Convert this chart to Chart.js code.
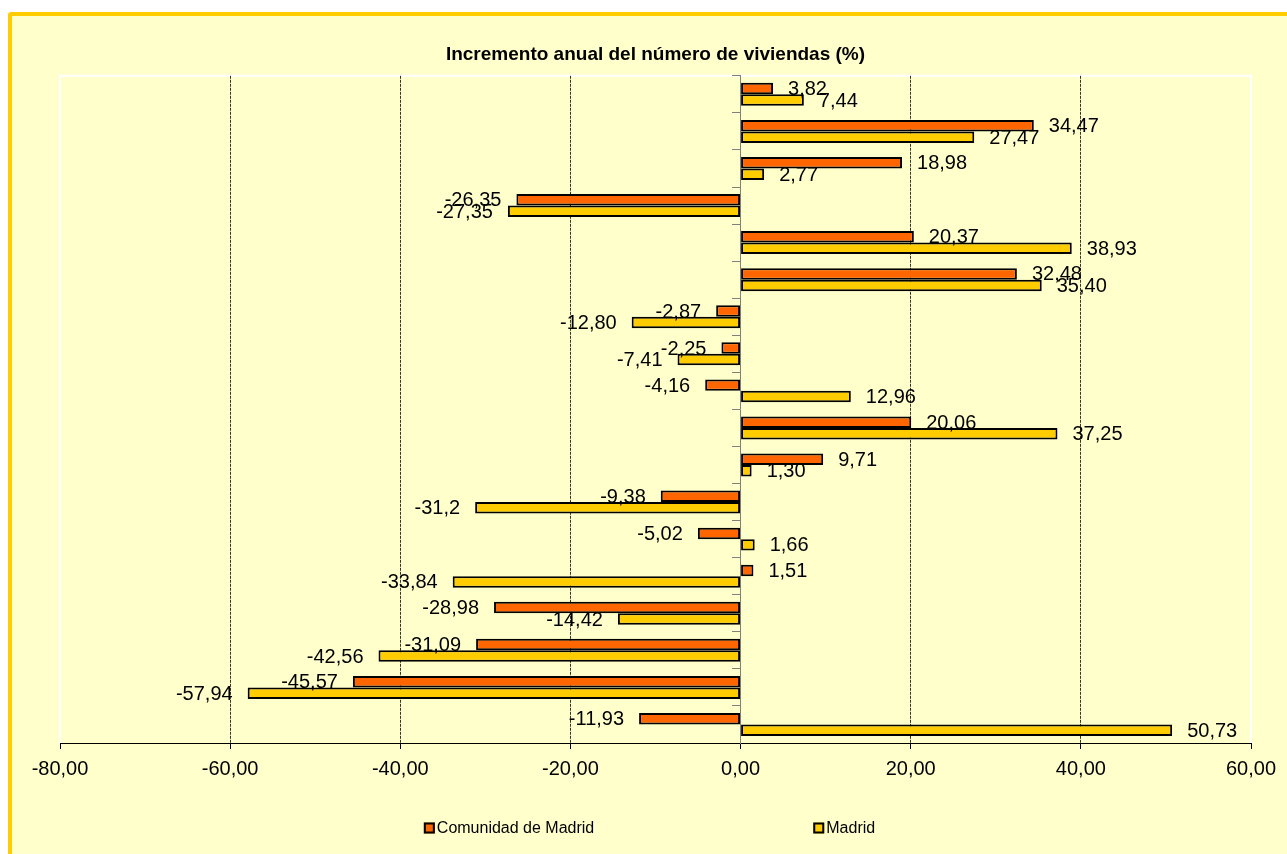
<!DOCTYPE html>
<html>
<head>
<meta charset="utf-8">
<title>Incremento anual del número de viviendas (%)</title>
<script src="https://cdn.jsdelivr.net/npm/chart.js@4.4.1/dist/chart.umd.min.js"></script>
<style>
  html, body { margin: 0; padding: 0; background: #fff; overflow: hidden; }
  #frame { position: absolute; left: 8px; top: 12px; width: 1300px; height: 900px;
           border: 4px solid #ffcc00; border-radius: 3px; background: #ffffcc; }
  #wrap { position: absolute; left: 0; top: 0; width: 1287px; height: 854px; }
</style>
</head>
<body>
<div id="frame"></div>
<div id="wrap"><canvas id="chart"></canvas></div>
<script>
// data, top row first
var categories = ['1', '2', '3', '4', '5', '6', '7', '8', '9', '10', '11', '12', '13', '14', '15', '16', '17', '18'];
var comunidad = [3.82, 34.47, 18.98, -26.35, 20.37, 32.48, -2.87, -2.25, -4.16, 20.06, 9.71, -9.38, -5.02, 1.51, -28.98, -31.09, -45.57, -11.93];
var madrid = [7.44, 27.47, 2.77, -27.35, 38.93, 35.40, -12.80, -7.41, 12.96, 37.25, 1.30, -31.2, 1.66, -33.84, -14.42, -42.56, -57.94, 50.73];
var madridDecimals = [2, 2, 2, 2, 2, 2, 2, 2, 2, 2, 2, 1, 2, 2, 2, 2, 2, 2];
var xTicks = [-80, -60, -40, -20, 0, 20, 40, 60];

var FONT = "'Liberation Sans', Arial, sans-serif";
Chart.defaults.font.family = FONT;
Chart.defaults.color = '#000';

function fmt(v, d) {
    return v.toFixed(d).replace('.', ',');
}

var extras = {
    id: 'extras',
    beforeDraw: function (chart) {
        // white plot frame (bottom edge is the axis)
        var a = chart.chartArea, ctx = chart.ctx;
        ctx.save();
        ctx.strokeStyle = '#ffffff';
        ctx.lineWidth = 2;
        ctx.beginPath();
        ctx.moveTo(a.left, a.bottom);
        ctx.lineTo(a.left, a.top);
        ctx.lineTo(a.right, a.top);
        ctx.lineTo(a.right, a.bottom);
        ctx.stroke();
        ctx.restore();
    },
    afterDatasetsDraw: function (chart) {
        var ctx = chart.ctx;
        ctx.save();
        ctx.font = '20px ' + FONT;
        ctx.fillStyle = '#000';
        ctx.textBaseline = 'middle';
        chart.data.datasets.forEach(function (ds, i) {
            var meta = chart.getDatasetMeta(i);
            meta.data.forEach(function (bar, j) {
                var v = ds.data[j];
                var d = i === 1 ? madridDecimals[j] : 2;
                ctx.textAlign = v < 0 ? 'right' : 'left';
                ctx.fillText(fmt(v, d), bar.x + (v < 0 ? -15 : 15), bar.y + 1);
            });
        });
        ctx.restore();
    },
    afterDraw: function (chart) {
        // legend, spread wide like the original
        var a = chart.chartArea, ctx = chart.ctx;
        var ds = chart.data.datasets;
        var box = 11, gap = 219, y = 828;
        ctx.save();
        ctx.font = '16px ' + FONT;
        var w = ds.map(function (d) { return box + 2 + ctx.measureText(d.label).width; });
        var x = (a.left + a.right) / 2 - 6 - (w[0] + gap + w[1]) / 2;
        ds.forEach(function (d, i) {
            ctx.fillStyle = d.backgroundColor;
            ctx.fillRect(x, y - box / 2, box, box);
            ctx.strokeStyle = '#000';
            ctx.lineWidth = 2;
            ctx.strokeRect(x + 1, y - box / 2 + 1, box - 2, box - 2);
            ctx.fillStyle = '#000';
            ctx.textAlign = 'left';
            ctx.textBaseline = 'middle';
            ctx.fillText(d.label, x + box + 2, y + 1);
            x += w[i] + gap;
        });
        ctx.restore();
    }
};

var chart = new Chart(document.getElementById('chart'), {
    type: 'bar',
    data: {
        labels: categories,
        datasets: [
            {
                label: 'Comunidad de Madrid',
                data: comunidad,
                backgroundColor: '#ff6600',
                borderColor: '#000',
                borderWidth: 2,
                borderSkipped: false,
                categoryPercentage: 0.62,
                barPercentage: 1.0
            },
            {
                label: 'Madrid',
                data: madrid,
                backgroundColor: '#ffcc00',
                borderColor: '#000',
                borderWidth: 2,
                borderSkipped: false,
                categoryPercentage: 0.62,
                barPercentage: 1.0
            }
        ]
    },
    options: {
        indexAxis: 'y',
        responsive: true,
        maintainAspectRatio: false,
        animation: false,
        layout: { padding: { left: 60, right: 36, top: 43, bottom: 71 } },
        scales: {
            x: {
                min: xTicks[0],
                max: xTicks[xTicks.length - 1],
                afterFit: function (s) { s.height = 40; },
                ticks: {
                    stepSize: 20,
                    padding: 8,
                    color: '#000',
                    font: { size: 20 },
                    callback: function (v) { return fmt(v, 2); }
                },
                grid: {
                    color: function (c) {
                        var v = c.tick ? c.tick.value : null;
                        return (v === 0 || v === xTicks[0] || v === xTicks[xTicks.length - 1]) ? 'rgba(0,0,0,0)' : '#333333';
                    },
                    tickColor: '#000',
                    tickLength: 6,
                    lineWidth: 1
                },
                border: { color: '#000', width: 1, dash: [3, 1] }
            },
            y: {
                position: { x: 0 },
                ticks: { display: false },
                grid: {
                    drawOnChartArea: false,
                    drawTicks: true,
                    tickLength: 8,
                    tickColor: '#808080',
                    offset: true
                },
                border: { color: '#808080', width: 1 }
            }
        },
        plugins: {
            legend: { display: false },
            tooltip: { enabled: false },
            title: {
                display: true,
                text: 'Incremento anual del número de viviendas (%)',
                color: '#000',
                font: { size: 19, weight: 'bold' },
                padding: { top: 0, bottom: 10 }
            }
        }
    },
    plugins: [extras]
});
</script>
</body>
</html>
